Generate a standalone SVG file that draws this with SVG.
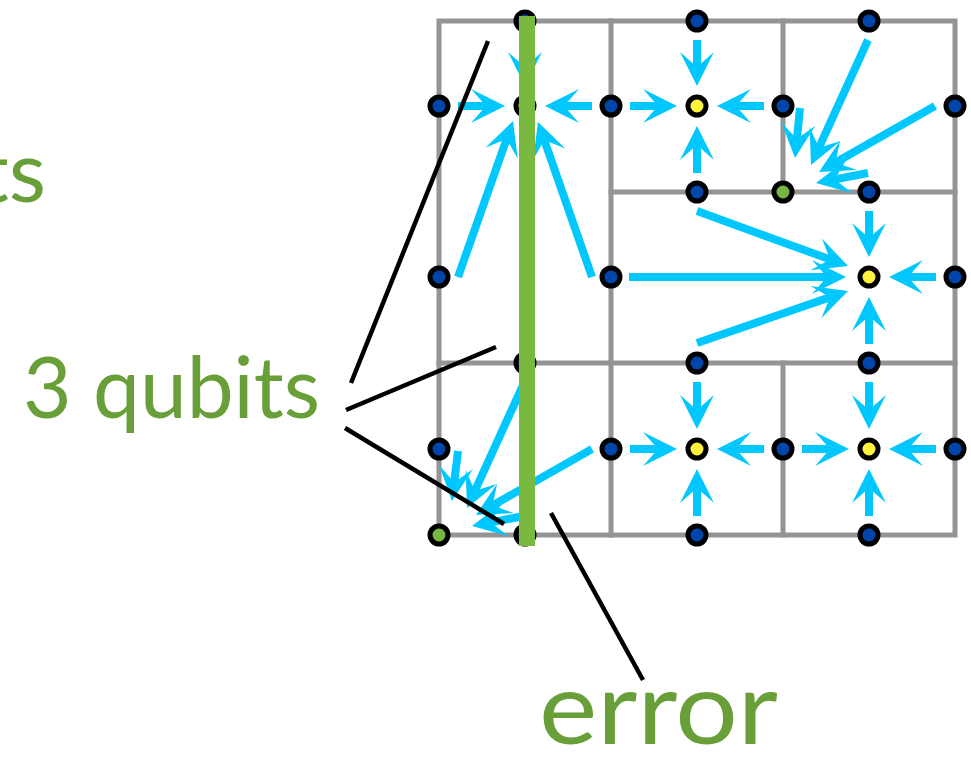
<svg xmlns="http://www.w3.org/2000/svg" width="971" height="758" viewBox="0 0 971 758">
  <style>
    .grid { fill: none; stroke: #949494; stroke-width: 5; stroke-linecap: square; }
    .shaft { stroke: #00C8FF; stroke-width: 8; fill: none; }
    .tip { fill: #00C8FF; }
    .q circle { stroke: #000; stroke-width: 5; }
    .data circle { fill: #0046AA; }
    .anc circle { fill: #FFF23D; }
    .sink circle { fill: #77B741; }
    .call { stroke: #000; stroke-width: 4.5; stroke-linecap: butt; }
    .lbl { font-family: Lato, "Open Sans", "Liberation Sans", sans-serif; fill: #689F38; }
  </style>
  <defs>
    <!-- notched arrowhead, tip at the origin, pointing along +x -->
    <path id="ah" class="tip" d="M0,0 L-34,-17 L-19,0 L-34,17 Z"/>
  </defs>

  <!-- lattice -->
  <g id="lattice" class="grid">
    <rect x="439" y="21" width="516" height="514"/>
    <line x1="611" y1="21" x2="611" y2="535"/>
    <line x1="783" y1="21" x2="783" y2="192"/>
    <line x1="783" y1="363" x2="783" y2="535"/>
    <line x1="611" y1="192" x2="955" y2="192"/>
    <line x1="439" y1="363" x2="955" y2="363"/>
  </g>

  <!-- syndrome moves: shaft + head -->
  <g id="connectors">
    <g class="shaft">
      <line x1="458" y1="106" x2="487" y2="106"/>
      <line x1="592" y1="106" x2="563" y2="106"/>
      <line x1="525" y1="40" x2="525" y2="68"/>
      <line x1="458" y1="277" x2="507" y2="138"/>
      <line x1="592" y1="277" x2="543.9" y2="139"/>

      <line x1="630" y1="106" x2="659" y2="106"/>
      <line x1="764" y1="106" x2="735" y2="106"/>
      <line x1="697" y1="40" x2="697" y2="68"/>
      <line x1="697" y1="173" x2="697" y2="144"/>

      <line x1="869" y1="211" x2="869" y2="239"/>
      <line x1="936" y1="277" x2="907" y2="277"/>
      <line x1="869" y1="344" x2="869" y2="315"/>
      <line x1="697" y1="211" x2="831.1" y2="259.8"/>
      <line x1="629" y1="277" x2="828" y2="277"/>
      <line x1="697" y1="343" x2="831" y2="296.9"/>

      <line x1="697" y1="382" x2="697" y2="411"/>
      <line x1="630" y1="449" x2="659" y2="449"/>
      <line x1="764" y1="449" x2="735" y2="449"/>
      <line x1="697" y1="516" x2="697" y2="487"/>

      <line x1="869" y1="382" x2="869" y2="411"/>
      <line x1="802" y1="449" x2="831" y2="449"/>
      <line x1="936" y1="449" x2="907" y2="449"/>
      <line x1="869" y1="516" x2="869" y2="487"/>

      <line x1="800" y1="108" x2="796.8" y2="140.1"/>
      <line x1="868" y1="40" x2="818.5" y2="148.6"/>
      <line x1="935" y1="106" x2="834.6" y2="163.1"/>
      <line x1="868" y1="173" x2="833.7" y2="179.6"/>

      <line x1="458" y1="451" x2="454.1" y2="483.1"/>
      <line x1="524" y1="383" x2="474.5" y2="491.6"/>
      <line x1="592" y1="449" x2="491.6" y2="506.1"/>
      <line x1="524" y1="516" x2="489.7" y2="522.6"/>
    </g>
    <g>
      <use href="#ah" transform="translate(505 106)"/>
      <use href="#ah" transform="translate(545 106) rotate(180)"/>
      <use href="#ah" transform="translate(525 86) rotate(90)"/>
      <use href="#ah" transform="translate(513 121) rotate(-70.6)"/>
      <use href="#ah" transform="translate(538 122) rotate(-109.2)"/>

      <use href="#ah" transform="translate(677 106)"/>
      <use href="#ah" transform="translate(717 106) rotate(180)"/>
      <use href="#ah" transform="translate(697 86) rotate(90)"/>
      <use href="#ah" transform="translate(697 126) rotate(-90)"/>

      <use href="#ah" transform="translate(869 257) rotate(90)"/>
      <use href="#ah" transform="translate(889 277) rotate(180)"/>
      <use href="#ah" transform="translate(869 297) rotate(-90)"/>
      <use href="#ah" transform="translate(848 266) rotate(20)"/>
      <use href="#ah" transform="translate(846 277)"/>
      <use href="#ah" transform="translate(848 291) rotate(-19)"/>

      <use href="#ah" transform="translate(697 429) rotate(90)"/>
      <use href="#ah" transform="translate(677 449)"/>
      <use href="#ah" transform="translate(717 449) rotate(180)"/>
      <use href="#ah" transform="translate(697 469) rotate(-90)"/>

      <use href="#ah" transform="translate(869 429) rotate(90)"/>
      <use href="#ah" transform="translate(849 449)"/>
      <use href="#ah" transform="translate(889 449) rotate(180)"/>
      <use href="#ah" transform="translate(869 469) rotate(-90)"/>

      <use href="#ah" transform="translate(795 158) rotate(95.7)"/>
      <use href="#ah" transform="translate(811 165) rotate(114.5)"/>
      <use href="#ah" transform="translate(819 172) rotate(150.4)"/>
      <use href="#ah" transform="translate(816 183) rotate(169.1)"/>

      <use href="#ah" transform="translate(452 501) rotate(96.8)"/>
      <use href="#ah" transform="translate(467 508) rotate(114.5)"/>
      <use href="#ah" transform="translate(476 515) rotate(150.4)"/>
      <use href="#ah" transform="translate(472 526) rotate(169.1)"/>
    </g>
  </g>

  <!-- qubits -->
  <g id="n-525-21" class="q data"><circle cx="525" cy="21" r="9"/></g>
  <g id="n-697-21" class="q data"><circle cx="697" cy="21" r="9"/></g>
  <g id="n-869-21" class="q data"><circle cx="869" cy="21" r="9"/></g>
  <g id="n-439-106" class="q data"><circle cx="439" cy="106" r="9"/></g>
  <g id="n-525-106" class="q anc"><circle cx="525" cy="106" r="9"/></g>
  <g id="n-611-106" class="q data"><circle cx="611" cy="106" r="9"/></g>
  <g id="n-697-106" class="q anc"><circle cx="697" cy="106" r="9"/></g>
  <g id="n-783-106" class="q data"><circle cx="783" cy="106" r="9"/></g>
  <g id="n-955-106" class="q data"><circle cx="955" cy="106" r="9"/></g>
  <g id="n-697-192" class="q data"><circle cx="697" cy="192" r="9"/></g>
  <g id="n-783-192" class="q sink"><circle cx="783" cy="192" r="9"/></g>
  <g id="n-869-192" class="q data"><circle cx="869" cy="192" r="9"/></g>
  <g id="n-439-277" class="q data"><circle cx="439" cy="277" r="9"/></g>
  <g id="n-611-277" class="q data"><circle cx="611" cy="277" r="9"/></g>
  <g id="n-869-277" class="q anc"><circle cx="869" cy="277" r="9"/></g>
  <g id="n-955-277" class="q data"><circle cx="955" cy="277" r="9"/></g>
  <g id="n-525-363" class="q data"><circle cx="525" cy="363" r="9"/></g>
  <g id="n-697-363" class="q data"><circle cx="697" cy="363" r="9"/></g>
  <g id="n-869-363" class="q data"><circle cx="869" cy="363" r="9"/></g>
  <g id="n-439-449" class="q data"><circle cx="439" cy="449" r="9"/></g>
  <g id="n-611-449" class="q data"><circle cx="611" cy="449" r="9"/></g>
  <g id="n-697-449" class="q anc"><circle cx="697" cy="449" r="9"/></g>
  <g id="n-783-449" class="q data"><circle cx="783" cy="449" r="9"/></g>
  <g id="n-869-449" class="q anc"><circle cx="869" cy="449" r="9"/></g>
  <g id="n-955-449" class="q data"><circle cx="955" cy="449" r="9"/></g>
  <g id="n-439-535" class="q sink"><circle cx="439" cy="535" r="9"/></g>
  <g id="n-525-535" class="q data"><circle cx="525" cy="535" r="9"/></g>
  <g id="n-697-535" class="q data"><circle cx="697" cy="535" r="9"/></g>
  <g id="n-869-535" class="q data"><circle cx="869" cy="535" r="9"/></g>

  <!-- error chain -->
  <g id="error-chain"><rect x="519" y="16" width="16" height="530" fill="#79B93F"/></g>

  <!-- callout leaders -->
  <g id="leaders">
    <line class="call" x1="351" y1="383" x2="488" y2="41"/>
    <line class="call" x1="346" y1="410" x2="496" y2="347"/>
    <line class="call" x1="345" y1="428" x2="504" y2="524"/>
    <line class="call" x1="551" y1="513" x2="643" y2="680" stroke-width="6.5"/>
  </g>

  <!-- labels -->
  <g id="labels">
    <text class="lbl" x="46" y="202" font-size="86" text-anchor="end">ts</text>
    <text class="lbl" x="23" y="418" font-size="86" textLength="297" lengthAdjust="spacingAndGlyphs">3 qubits</text>
    <text class="lbl" x="539" y="744" font-size="100" textLength="239" lengthAdjust="spacingAndGlyphs">error</text>
  </g>
</svg>
